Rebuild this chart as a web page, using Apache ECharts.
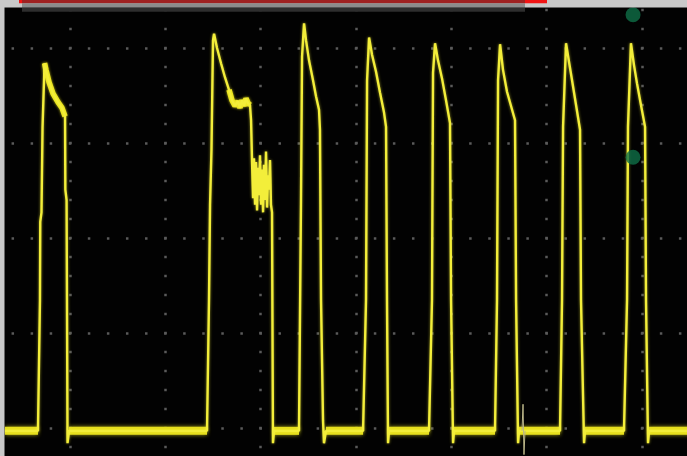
<!DOCTYPE html>
<html>
<head>
<meta charset="utf-8">
<script src="https://cdn.jsdelivr.net/npm/echarts@6/dist/echarts.min.js"></script>
<style>
  html, body { margin: 0; padding: 0; background: #c9c9c9; overflow: hidden; }
  #frame { position: relative; width: 687px; height: 456px; overflow: hidden; background: #020202; }
  /* the graticule extends past the visible screen on the left, top and bottom */
  #scope { position: absolute; left: -26px; top: -47px; width: 790px; height: 570px; }
</style>
</head>
<body>
<div id="frame"><div id="scope"></div></div>
<script>
// Scope capture: time in µs (10 µs/div), amplitude in V (1 V/div).
const timeMin = -10, timeMax = 70, timeStep = 10;
const voltMin = -1, voltMax = 5, voltStep = 1;

const floorLevel = -0.03;

const traceStart = [[-6.82, -0.03]];
const pulse1 = [[-3.36, -0.03], [-3.25, -0.05], [-3.15, 1.35], [-3.12, 2.17], [-2.99, 2.27], [-2.88, 3.17],
  [-2.67, 3.84], [-2.52, 3.77], [-2.20, 3.64], [-1.78, 3.52], [-1.26, 3.43], [-0.84, 3.37], [-0.52, 3.28],
  [-0.49, 2.51], [-0.36, 2.40], [-0.26, -0.16], [-0.10, -0.03]];
const pulse2 = [[14.37, -0.03], [14.48, -0.04], [14.58, 1.35], [14.69, 2.35], [14.84, 2.93], [15.00, 4.08],
  [15.11, 4.15], [15.42, 4.00], [15.84, 3.84], [16.26, 3.69], [16.68, 3.56], [16.99, 3.45], [17.31, 3.39],
  [17.62, 3.44], [17.83, 3.37], [18.04, 3.45], [18.25, 3.39], [18.46, 3.47], [18.67, 3.42], [18.88, 3.40],
  [18.99, 3.24], [19.09, 2.82], [19.20, 2.42], [19.30, 2.84], [19.41, 2.35], [19.51, 2.80], [19.62, 2.29],
  [19.72, 2.74], [19.83, 2.45], [19.93, 2.87], [20.04, 2.35], [20.14, 2.72], [20.25, 2.27], [20.35, 2.77],
  [20.46, 2.40], [20.56, 2.91], [20.67, 2.32], [20.77, 2.66], [20.88, 2.51], [20.98, 2.82], [21.08, 2.35],
  [21.19, 2.27], [21.29, -0.16], [21.40, -0.03]];
const pulse3 = [[24.02, -0.03], [24.13, -0.04], [24.23, 2.40], [24.34, 3.91], [24.55, 4.26], [24.76, 4.08],
  [25.07, 3.87], [25.49, 3.66], [25.81, 3.49], [26.12, 3.35], [26.22, 3.14], [26.33, 1.35], [26.54, 0.08],
  [26.64, -0.16], [26.85, -0.03]];
const pulse4 = [[30.74, -0.03], [30.84, -0.04], [31.05, 1.35], [31.16, 3.66], [31.37, 4.11], [31.68, 3.93],
  [32.10, 3.75], [32.52, 3.53], [32.94, 3.32], [33.15, 3.17], [33.25, 1.35], [33.36, -0.16], [33.46, -0.03]];
const pulse5 = [[37.66, -0.03], [37.76, -0.04], [37.97, 1.35], [38.08, 3.74], [38.29, 4.05], [38.60, 3.87],
  [39.02, 3.68], [39.44, 3.45], [39.86, 3.21], [39.97, 1.35], [40.18, -0.16], [40.28, -0.03]];
const pulse6 = [[44.58, -0.03], [44.69, -0.04], [44.79, 1.35], [44.90, 3.66], [45.11, 4.04], [45.42, 3.77],
  [45.84, 3.54], [46.26, 3.39], [46.68, 3.24], [46.79, 1.35], [47.00, -0.16], [47.10, -0.03]];
const pulse7 = [[51.40, -0.03], [51.51, -0.04], [51.61, 1.35], [51.72, 3.17], [52.03, 4.05], [52.35, 3.85],
  [52.66, 3.66], [53.08, 3.40], [53.50, 3.14], [53.60, 1.35], [53.92, -0.16], [54.02, -0.03]];
const pulse8 = [[58.11, -0.03], [58.22, -0.04], [58.43, 1.35], [58.53, 3.17], [58.84, 4.05], [59.16, 3.82],
  [59.47, 3.63], [59.89, 3.40], [60.32, 3.17], [60.42, 1.35], [60.63, -0.16], [60.74, -0.03]];
const traceEnd = [[65.5, -0.03]];

// short spike on the floor between pulses 6 and 7
const glitch = [[47.41, -0.03], [47.52, 0.25], [47.62, -0.28], [47.73, -0.03]];

// flat stretches of the trace, drawn as a wide noisy band
const floorSpans = [[-6.82, -3.36], [-0.10, 14.37], [21.40, 24.02], [26.85, 30.74], [33.46, 37.66],
  [40.28, 44.58], [47.10, 51.40], [54.02, 58.11], [60.74, 65.5]];

// noisy tops of the first two pulses (index ranges into pulse1 / pulse2)
const noisyTop1 = [6, 13];
const noisyTop2 = [10, 20];

// cursor markers
const cursorTime = [59.06, 59.06];
const cursorVolt = [4.35, 2.85];

const trace = [].concat(traceStart, pulse1, pulse2, pulse3, pulse4, pulse5, pulse6, pulse7, pulse8, traceEnd);

const yellow = '#f3ee3a';

// offset of the visible screen inside the chart canvas
const offX = 26, offY = 47;

const floorSeries = floorSpans.map(function (s) {
  return {
    type: 'line',
    data: [[s[0], floorLevel], [s[1], floorLevel]],
    symbol: 'none',
    silent: true,
    z: 2,
    lineStyle: { color: '#e6df1c', width: 8, shadowBlur: 4, shadowColor: 'rgba(230,223,28,0.75)' }
  };
});

const thickTops = [
  pulse1.slice(noisyTop1[0], noisyTop1[1]),
  pulse2.slice(noisyTop2[0], noisyTop2[1])
].map(function (seg) {
  return {
    type: 'line',
    data: seg,
    symbol: 'none',
    silent: true,
    z: 2,
    lineStyle: { color: '#ece51f', width: 5.5, shadowBlur: 3, shadowColor: 'rgba(236,229,31,0.7)' }
  };
});

const chart = echarts.init(document.getElementById('scope'), null, { renderer: 'canvas' });

const hiddenAxisParts = {
  axisLine: { show: false },
  axisTick: { show: false },
  axisLabel: { show: false }
};

chart.setOption({
  animation: false,
  backgroundColor: '#020202',
  grid: { left: 0.67, top: 0, width: 762.67, height: 570 },
  xAxis: Object.assign({
    type: 'value', min: timeMin, max: timeMax, interval: timeStep,
    splitLine: { show: true, lineStyle: { color: '#5a5a5a', width: 2.5, type: [2.5, 16.5], dashOffset: 1.25 } }
  }, hiddenAxisParts),
  yAxis: Object.assign({
    type: 'value', min: voltMin, max: voltMax, interval: voltStep,
    splitLine: { show: true, lineStyle: { color: '#5a5a5a', width: 2.5, type: [2.5, 16.567], dashOffset: 1.25 } }
  }, hiddenAxisParts),
  series: floorSeries.concat(thickTops, [
    {
      type: 'line',
      name: 'CH1',
      data: trace,
      symbol: 'none',
      z: 3,
      lineStyle: { color: yellow, width: 2.4, shadowBlur: 3, shadowColor: 'rgba(243,238,58,0.6)' }
    },
    {
      type: 'line',
      data: glitch,
      symbol: 'none',
      z: 3,
      lineStyle: { color: '#bdb88a', width: 1 }
    },
    {
      type: 'scatter',
      data: cursorTime.map(function (t, i) { return [t, cursorVolt[i]]; }),
      symbolSize: 15,
      z: 5,
      itemStyle: { color: '#0f6f47' }
    }
  ]),
  graphic: {
    elements: [
      { type: 'rect', z: 100, shape: { x: offX, y: offY, width: 4.5, height: 456 }, style: { fill: '#c9c9c9' } },
      { type: 'rect', z: 100, shape: { x: offX, y: offY, width: 687, height: 7.5 }, style: { fill: '#c9c9c9' } },
      { type: 'rect', z: 101, shape: { x: offX + 19, y: offY, width: 528, height: 3.3 }, style: { fill: '#f01414' } },
      { type: 'rect', z: 102, shape: { x: offX + 22, y: offY, width: 503, height: 3.3 }, style: { fill: '#9e2121' } },
      { type: 'rect', z: 102, shape: { x: offX + 22, y: offY + 3.3, width: 503, height: 4.2 }, style: { fill: '#8b8b8b' } },
      { type: 'rect', z: 102, shape: { x: offX + 22, y: offY + 7.5, width: 503, height: 4.3 }, style: { fill: '#2e2e2e' } }
    ]
  }
});
</script>
</body>
</html>
